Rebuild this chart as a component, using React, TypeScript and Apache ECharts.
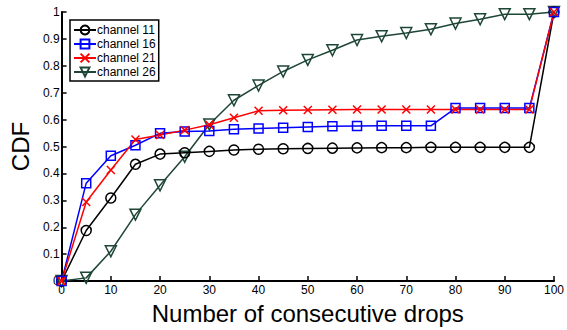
import React, { useEffect, useRef } from "react";
import * as echarts from "echarts";

const drops = [0, 5, 10, 15, 20, 25, 30, 35, 40, 45, 50, 55, 60, 65, 70, 75, 80, 85, 90, 95, 100];
const channel11 = [0, 0.188, 0.309, 0.434, 0.472, 0.477, 0.482, 0.487, 0.490, 0.492, 0.493, 0.494, 0.495, 0.496, 0.496, 0.497, 0.497, 0.497, 0.497, 0.497, 1];
const channel16 = [0, 0.364, 0.466, 0.505, 0.549, 0.556, 0.558, 0.564, 0.567, 0.570, 0.573, 0.575, 0.576, 0.577, 0.577, 0.577, 0.643, 0.643, 0.643, 0.643, 1];
const channel21 = [0, 0.294, 0.413, 0.526, 0.543, 0.561, 0.581, 0.607, 0.633, 0.635, 0.636, 0.637, 0.638, 0.638, 0.638, 0.638, 0.638, 0.638, 0.638, 0.638, 1];
const channel26 = [0, 0.012, 0.111, 0.247, 0.356, 0.462, 0.582, 0.672, 0.727, 0.779, 0.822, 0.858, 0.896, 0.910, 0.922, 0.936, 0.957, 0.973, 0.992, 0.992, 1];
const seriesNames = ["channel 11", "channel 16", "channel 21", "channel 26"];
const yTicks = ["0", "0.1", "0.2", "0.3", "0.4", "0.5", "0.6", "0.7", "0.8", "0.9", "1"];

const FONT = "Liberation Sans, Arial, sans-serif";

export default function App() {
  const ref = useRef<HTMLDivElement>(null);
  useEffect(() => {
    document.body.style.margin = "0";
    const chart = echarts.init(ref.current!, null, { renderer: "svg" });
    const mk = (name: string, vals: number[], color: string, symbol: string, size: number, extra: any = {}) => ({
      name,
      type: "line",
      data: drops.map((d, i) => [d, vals[i]]),
      symbol,
      symbolSize: size,
      clip: false,
      lineStyle: { color, width: 1.5 },
      itemStyle: { color: "rgba(255,255,255,0)", borderColor: color, borderWidth: 1.5 },
      emphasis: { disabled: true },
      ...extra,
    });
    chart.setOption({
      animation: false,
      textStyle: { fontFamily: FONT },
      grid: { left: 60, right: 10, top: 12, bottom: 39 },
      legend: {
        orient: "vertical",
        left: 70,
        top: 20,
        data: seriesNames,
        backgroundColor: "#fff",
        borderColor: "#000",
        borderWidth: 1.5,
        borderRadius: 0,
        padding: [4, 3, 3, 3],
        itemGap: 2,
        itemWidth: 22,
        itemHeight: 11,
        textStyle: { fontSize: 12, color: "#000", fontFamily: FONT, padding: [0, 0, 0, -4] },
      },
      xAxis: {
        type: "value",
        min: 0,
        max: 100,
        interval: 10,
        name: "Number of consecutive drops",
        nameLocation: "middle",
        nameGap: 9,
        nameTextStyle: { fontSize: 24, color: "#000", fontFamily: FONT, verticalAlign: "top" },
        axisLine: { onZero: false, lineStyle: { color: "#000", width: 2 } },
        axisTick: { inside: true, length: 5, lineStyle: { color: "#000", width: 1.5 } },
        axisLabel: { color: "#000", fontSize: 12, margin: 3, fontFamily: FONT },
        splitLine: { show: false },
      },
      yAxis: {
        type: "value",
        min: 0,
        max: 1,
        interval: 0.1,
        name: "CDF",
        nameLocation: "middle",
        nameGap: 26,
        nameTextStyle: { fontSize: 24, color: "#000", fontFamily: FONT },
        axisLine: { show: true, onZero: false, lineStyle: { color: "#000", width: 2 } },
        axisTick: { show: true, inside: true, length: 5, lineStyle: { color: "#000", width: 1.5 } },
        axisLabel: {
          color: "#000",
          fontSize: 12,
          margin: 2,
          fontFamily: FONT,
          formatter: (v: number) => yTicks[Math.round(v * 10)],
        },
        splitLine: { show: false },
      },
      series: [
        mk(seriesNames[0], channel11, "#000000", "circle", 10),
        mk(seriesNames[1], channel16, "#0000ff", "rect", 9),
        mk(seriesNames[2], channel21, "#ff0000", "path://M0,0L10,10M10,0L0,10", 8),
        mk(seriesNames[3], channel26, "#1e4636", "triangle", 11, { symbolRotate: 180, z: 1 }),
      ],
    });
    return () => chart.dispose();
  }, []);
  return <div ref={ref} style={{ width: 567, height: 330 }} />;
}
